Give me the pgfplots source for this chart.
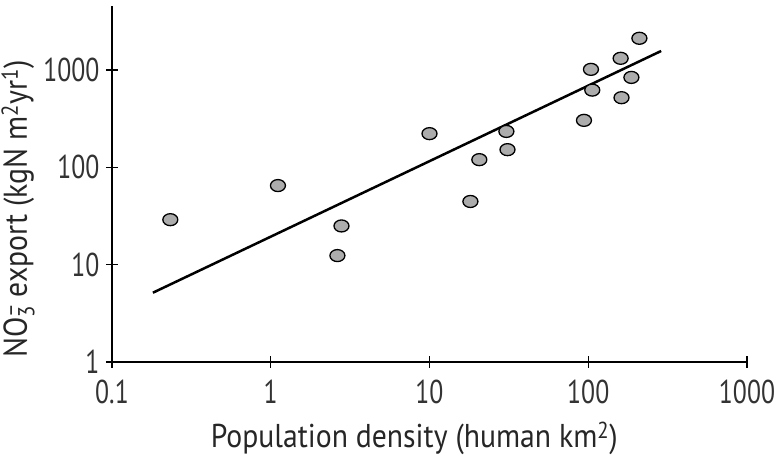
\documentclass[border=0pt]{standalone}
\usepackage{fontspec}
\setmainfont[FakeStretch=0.9]{PT Sans}
\newfontfamily\tickfont[FakeStretch=0.78]{PT Sans}
\usepackage{pgfplots}
\pgfplotsset{compat=1.18}
\begin{document}
\begin{tikzpicture}
\useasboundingbox (-112pt,-100pt) rectangle (672pt,362pt);
\begin{axis}[
  at={(0pt,0pt)}, anchor=south west,
  scale only axis,
  width=635pt, height=356pt,
  xmode=log, ymode=log,
  xmin=0.1, xmax=1000,
  ymin=1, ymax=4550,
  axis lines*=left,
  axis line style={line width=1.5pt, black},
  xtick={0.1,1,10,100,1000},
  xticklabels={0.1,1,10,100,1000},
  ytick={1,10,100,1000},
  yticklabels={1,10,100,1000},
  xminorticks=false, yminorticks=false,
  tick align=center,
  major tick length=12pt,
  tick style={line width=1.5pt, black},
  /pgf/number format/assume math mode=true,
  ticklabel style={font=\tickfont\fontsize{33}{33}\selectfont, text=black!80},
  xticklabel style={yshift=-8pt},
  yticklabel style={xshift=-3pt},
  xlabel={Population density (human km\textsuperscript{2})},
  ylabel={NO\rlap{\textsuperscript{–}}\textsubscript{3} export (kgN m\textsuperscript{2}yr\textsuperscript{1})},
  label style={font=\fontsize{33}{33}\selectfont, text=black!85},
  xlabel style={at={(axis description cs:0.476,-0.215)}, anchor=center},
  ylabel style={at={(axis description cs:-0.148,0.43)}, anchor=center},
  clip=false,
]
\addplot[line width=2.5pt, black] coordinates {(0.181,5.15) (288,1570)};
\addplot[only marks, mark=*, mark size=6pt,
  mark options={xscale=1.25, fill=gray!65, draw=black, line width=1.3pt}]
  coordinates {
  (0.233,29) (1.11,65) (2.79,25) (2.63,12.4)
  (10,222) (30.5,234) (31,152) (20.6,120) (18.1,44.6)
  (94,304) (104,1016) (106,622) (160,1320) (187,840)
  (162,520) (210,2120)
  };
\end{axis}
\end{tikzpicture}
\end{document}
